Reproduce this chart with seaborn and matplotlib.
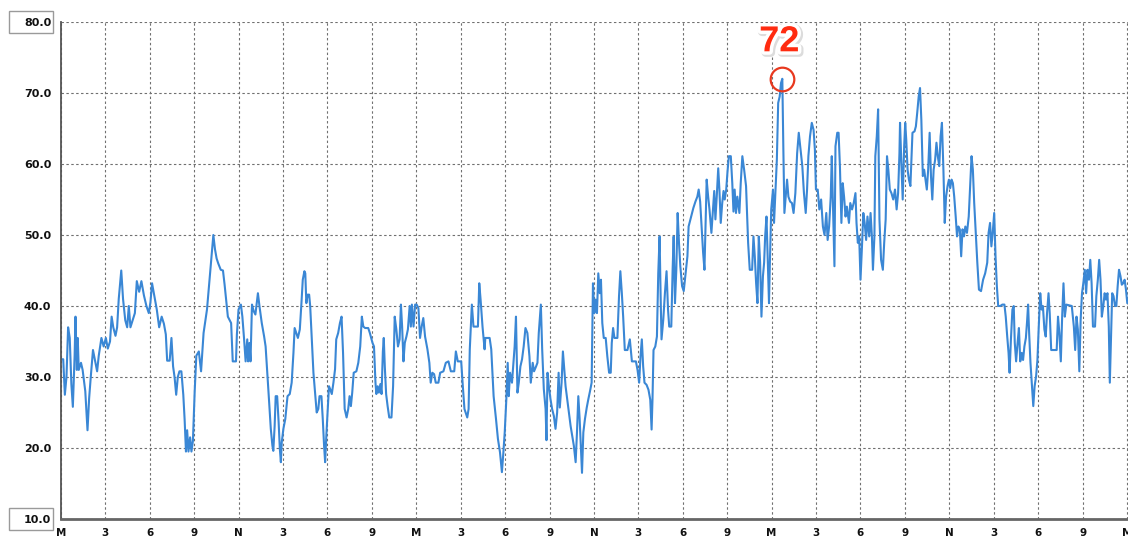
import numpy as np
import pandas as pd
import matplotlib
matplotlib.use("Agg")
import matplotlib.pyplot as plt
import matplotlib.patheffects as pe
import seaborn as sns
from matplotlib.ticker import MultipleLocator
from matplotlib.patches import Rectangle

# readings over three days, hour 0 = midnight of day 1
day1_hours = [
    0.00, 0.15, 0.26, 0.37, 0.48, 0.59, 0.70, 0.80, 0.92, 0.98,
    1.07, 1.13, 1.20, 1.35, 1.46, 1.64, 1.72, 1.79, 1.90, 2.01,
    2.16, 2.33, 2.44, 2.55, 2.73, 2.88, 3.03, 3.16, 3.31, 3.42,
    3.53, 3.68, 3.79, 3.90, 4.07, 4.19, 4.34, 4.47, 4.58, 4.69,
    4.84, 4.99, 5.12, 5.28, 5.43, 5.60, 5.77, 5.93, 6.04, 6.15,
    6.30, 6.47, 6.63, 6.80, 6.95, 7.08, 7.17, 7.34, 7.46, 7.57,
    7.67, 7.78, 7.89, 8.00, 8.13, 8.26, 8.35, 8.44, 8.52, 8.61,
    8.72, 8.81, 8.91, 9.03, 9.14, 9.31, 9.46, 9.63, 9.86, 10.01,
    10.18, 10.29, 10.40, 10.51, 10.62, 10.79, 10.94, 11.05, 11.27, 11.49,
    11.60, 11.82, 11.88, 11.99, 12.15, 12.25, 12.36, 12.47, 12.58, 12.64,
    12.73, 12.80, 12.90, 13.01, 13.13, 13.19, 13.30, 13.41, 13.56, 13.72,
    13.82, 13.95, 14.06, 14.17, 14.28, 14.34, 14.43, 14.50, 14.60, 14.70,
    14.78, 14.85, 14.91, 15.02, 15.15, 15.30, 15.45, 15.58, 15.70, 15.78,
    15.89, 16.00, 16.13, 16.24, 16.33, 16.44, 16.50, 16.57, 16.66, 16.76,
    16.83, 16.94, 17.05, 17.16, 17.27, 17.38, 17.46, 17.59, 17.68, 17.77,
    17.84, 17.92, 17.99, 18.10, 18.18, 18.29, 18.40, 18.51, 18.59, 18.72,
    18.84, 18.95, 19.05, 19.16, 19.29, 19.40, 19.49, 19.58, 19.67, 19.77,
    19.95, 20.08, 20.21, 20.32, 20.42, 20.54, 20.75, 20.86, 21.04, 21.14,
    21.24, 21.30, 21.39, 21.47, 21.57, 21.65, 21.74, 21.80, 21.87, 21.96,
    22.06, 22.17, 22.32, 22.43, 22.54, 22.65, 22.76, 22.87, 22.96, 23.04,
    23.13, 23.22, 23.33, 23.43, 23.55, 23.63, 23.70, 23.81, 23.92,
]
day1_values = [
    32.5, 32.5, 27.5, 30.0, 37.0, 35.5, 29.0, 25.8, 33.0, 38.5,
    31.0, 35.5, 31.0, 32.0, 31.0, 28.0, 25.0, 22.5, 27.0, 30.0,
    33.8, 32.0, 30.8, 33.0, 35.5, 34.3, 35.5, 34.0, 35.0, 38.5,
    37.0, 35.8, 37.0, 41.0, 45.0, 41.0, 38.0, 37.0, 40.0, 37.0,
    38.0, 39.0, 43.5, 42.0, 43.5, 41.5, 40.0, 39.0, 40.5, 43.2,
    41.5, 39.5, 37.0, 38.5, 37.5, 36.0, 32.3, 32.3, 35.5, 31.5,
    30.0, 27.5, 30.0, 30.8, 30.8, 27.5, 24.0, 19.5, 22.5, 19.5,
    21.5, 19.5, 21.0, 28.0, 33.0, 33.6, 30.8, 36.2, 39.5, 43.2,
    47.5, 50.0, 48.0, 46.7, 46.0, 45.1, 45.0, 43.0, 38.5, 37.6,
    32.2, 32.2, 36.0, 39.5, 40.2, 38.5, 35.5, 32.2, 35.3, 32.2,
    34.8, 32.2, 40.2, 39.3, 38.8, 39.9, 41.8, 39.9, 37.6, 35.7,
    34.3, 30.1, 26.4, 22.7, 20.3, 19.6, 23.1, 27.3, 27.3, 23.6,
    19.9, 18.0, 20.8, 22.7, 24.1, 27.3, 27.6, 29.2, 33.4, 36.9,
    36.2, 35.5, 36.7, 40.4, 43.7, 44.9, 44.6, 40.4, 41.6, 41.6,
    40.0, 35.3, 30.6, 27.8, 25.0, 25.5, 27.3, 27.3, 24.1, 20.3,
    18.0, 21.7, 24.5, 28.7, 28.3, 27.6, 29.2, 31.1, 35.3, 36.2,
    37.6, 38.5, 33.4, 25.5, 24.3, 25.5, 27.3, 25.9, 27.8, 30.6,
    30.8, 32.0, 34.3, 38.5, 37.1, 36.9, 36.9, 36.2, 34.8, 34.3,
    29.2, 27.6, 28.7, 27.8, 29.0, 27.6, 33.6, 35.5, 31.5, 27.6,
    25.9, 24.3, 24.3, 28.7, 38.5, 36.7, 34.3, 35.3, 40.2, 37.1,
    32.2, 34.8, 35.7, 36.7, 40.0, 37.1, 40.2, 37.1, 40.2,
]

day2_hours = [
    24.02, 24.14, 24.25, 24.36, 24.47, 24.59, 24.75, 24.88, 24.97, 25.08,
    25.20, 25.31, 25.49, 25.61, 25.83, 25.99, 26.17, 26.33, 26.56, 26.67,
    26.80, 27.03, 27.14, 27.25, 27.44, 27.53, 27.61, 27.75, 27.86, 28.16,
    28.25, 28.34, 28.47, 28.61, 28.66, 28.95, 29.06, 29.22, 29.38, 29.51,
    29.65, 29.78, 29.88, 29.97, 30.08, 30.17, 30.24, 30.33, 30.46, 30.56,
    30.64, 30.73, 30.83, 30.92, 31.03, 31.14, 31.25, 31.37, 31.50, 31.64,
    31.73, 31.86, 31.95, 32.09, 32.18, 32.27, 32.41, 32.50, 32.61, 32.73,
    32.79, 32.86, 32.95, 33.06, 33.17, 33.29, 33.40, 33.51, 33.61, 33.69,
    33.81, 33.90, 33.99, 34.08, 34.19, 34.31, 34.42, 34.53, 34.64, 34.76,
    34.85, 34.94, 35.03, 35.12, 35.19, 35.28, 35.39, 35.51, 35.62, 35.73,
    35.84, 35.93, 36.02, 36.11, 36.20, 36.29, 36.39, 36.47, 36.56, 36.66,
    36.79, 36.90, 37.02, 37.13, 37.20, 37.29, 37.38, 37.58, 37.69, 37.78,
    37.88, 37.97, 38.08, 38.26, 38.42, 38.56, 38.83, 38.94, 39.05, 39.14,
    39.23, 39.32, 39.41, 39.55, 39.68, 39.80, 39.89, 39.95, 40.02, 40.14,
    40.25, 40.34, 40.43, 40.50, 40.56, 40.68, 40.79, 40.90, 41.00, 41.08,
    41.22, 41.31, 41.38, 41.47, 41.56, 41.65, 41.74, 41.83, 41.95, 42.06,
    42.19, 42.31, 42.39, 42.56, 42.71, 42.85, 42.98, 43.07, 43.17, 43.28,
    43.37, 43.46, 43.53, 43.61, 43.71, 43.80, 43.93, 44.02, 44.12, 44.20,
    44.29, 44.39, 44.47, 44.56, 44.66, 44.75, 44.83, 44.93, 45.02, 45.11,
    45.24, 45.34, 45.42, 45.50, 45.59, 45.68, 45.82, 45.91, 46.02, 46.14,
    46.27, 46.41, 46.52, 46.68, 46.77, 46.86, 46.95, 47.04, 47.13, 47.22,
    47.31, 47.41, 47.49, 47.56, 47.65, 47.72, 47.82, 47.88, 47.97,
]
day2_values = [
    40.2, 39.7, 35.5, 37.1, 38.3, 35.7, 33.9, 32.0, 29.2, 30.6,
    30.4, 29.2, 29.2, 30.6, 30.8, 32.0, 32.2, 30.8, 30.8, 33.6,
    32.2, 32.2, 28.7, 25.5, 24.3, 25.5, 33.9, 40.2, 37.1, 37.1,
    43.2, 40.9, 37.1, 33.9, 35.5, 35.5, 33.9, 27.3, 24.1, 21.3,
    19.4, 16.6, 19.4, 22.2, 26.9, 32.0, 27.3, 30.6, 29.2, 32.0,
    34.3, 38.5, 27.8, 29.2, 31.5, 32.5, 34.3, 36.9, 36.2, 32.9,
    29.2, 32.0, 30.8, 31.5, 32.0, 36.2, 40.2, 33.9, 28.3, 25.5,
    21.1, 30.6, 28.7, 26.9, 25.5, 24.5, 22.7, 25.0, 30.6, 25.7,
    29.2, 33.6, 31.1, 28.7, 26.9, 25.0, 23.1, 21.7, 20.3, 18.0,
    22.2, 27.3, 24.1, 19.9, 16.5, 22.2, 24.1, 25.7, 26.9, 28.0,
    29.2, 43.2, 39.0, 40.9, 39.0, 44.6, 41.8, 43.7, 37.6, 35.5,
    35.5, 32.9, 30.6, 30.6, 34.8, 36.9, 35.5, 35.5, 41.4, 44.9,
    41.8, 38.5, 33.8, 33.8, 35.3, 32.2, 32.2, 31.0, 29.2, 32.9,
    35.3, 31.5, 29.2, 28.9, 28.2, 26.8, 22.6, 26.8, 33.8, 34.3,
    35.7, 44.6, 49.8, 41.4, 35.3, 38.1, 41.8, 44.9, 39.5, 37.1,
    37.1, 45.1, 49.8, 40.4, 45.1, 53.1, 48.9, 45.6, 42.8, 42.1,
    44.6, 47.0, 51.2, 52.6, 53.8, 54.7, 55.4, 56.4, 54.7, 50.8,
    47.5, 45.1, 50.8, 57.8, 55.4, 53.6, 50.3, 53.1, 56.2, 52.2,
    55.4, 59.4, 56.4, 51.7, 54.5, 56.2, 55.0, 56.4, 59.0, 61.1,
    61.1, 57.3, 53.3, 56.4, 53.1, 55.4, 53.1, 57.3, 61.1, 59.2,
    56.9, 48.9, 45.1, 45.1, 49.8, 47.0, 43.2, 40.4, 49.8, 46.1,
    38.5, 44.2, 46.1, 49.8, 52.6, 47.5, 40.4, 46.1, 53.6,
]

day3_hours = [
    48.09, 48.16, 48.26, 48.35, 48.44, 48.54, 48.63, 48.72, 48.79, 48.86,
    48.95, 49.04, 49.13, 49.25, 49.37, 49.48, 49.60, 49.72, 49.83, 49.95,
    50.07, 50.18, 50.30, 50.39, 50.48, 50.59, 50.71, 50.83, 50.92, 50.99,
    51.11, 51.22, 51.34, 51.46, 51.57, 51.69, 51.78, 51.88, 51.99, 52.06,
    52.15, 52.24, 52.31, 52.43, 52.52, 52.61, 52.71, 52.80, 52.89, 52.99,
    53.08, 53.22, 53.31, 53.43, 53.54, 53.66, 53.73, 53.82, 53.91, 54.00,
    54.10, 54.19, 54.28, 54.38, 54.47, 54.59, 54.68, 54.77, 54.84, 54.94,
    55.00, 55.10, 55.19, 55.28, 55.39, 55.51, 55.60, 55.70, 55.79, 55.88,
    55.98, 56.09, 56.21, 56.33, 56.44, 56.54, 56.63, 56.67, 56.76, 56.85,
    56.95, 57.02, 57.09, 57.18, 57.27, 57.37, 57.51, 57.65, 57.74, 57.83,
    57.93, 58.02, 58.11, 58.21, 58.30, 58.39, 58.48, 58.57, 58.67, 58.76,
    58.85, 58.94, 59.04, 59.13, 59.22, 59.32, 59.41, 59.50, 59.60, 59.69,
    59.78, 59.88, 59.97, 60.06, 60.15, 60.24, 60.33, 60.43, 60.52, 60.61,
    60.71, 60.80, 60.89, 60.99, 61.08, 61.19, 61.31, 61.43, 61.50, 61.59,
    61.68, 61.77, 61.89, 62.00, 62.14, 62.28, 62.42, 62.56, 62.65, 62.75,
    62.84, 62.93, 63.03, 63.12, 63.21, 63.30, 63.44, 63.58, 63.72, 63.81,
    63.91, 64.00, 64.07, 64.16, 64.26, 64.35, 64.42, 64.51, 64.61, 64.70,
    64.79, 64.89, 64.98, 65.07, 65.17, 65.25, 65.32, 65.39, 65.48, 65.58,
    65.67, 65.76, 65.86, 65.95, 66.04, 66.14, 66.23, 66.32, 66.42, 66.51,
    66.60, 66.70, 66.78, 66.88, 67.25, 67.34, 67.43, 67.53, 67.62, 67.71,
    67.80, 67.90, 68.27, 68.41, 68.50, 68.59, 68.68, 68.78, 68.87, 68.96,
    69.05, 69.15, 69.24, 69.33, 69.43, 69.52, 69.61, 69.70, 69.84, 69.93,
    70.03, 70.12, 70.21, 70.30, 70.40, 70.49, 70.58, 70.68, 70.77, 70.84,
    70.91, 71.00, 71.09, 71.19, 71.28, 71.37, 71.46, 71.56, 71.65, 71.74,
    71.84, 71.93, 72.02,
]
day3_values = [
    56.4, 51.7, 56.4, 60.6, 68.6, 69.5, 71.4, 72.0, 62.0, 53.1,
    55.4, 57.8, 55.4, 54.7, 54.5, 53.1, 55.9, 61.5, 64.4, 62.0,
    59.7, 55.9, 53.1, 56.4, 61.1, 63.9, 65.8, 64.8, 62.0, 56.4,
    56.4, 53.6, 55.0, 51.2, 50.0, 53.1, 49.3, 51.2, 55.4, 61.1,
    53.1, 45.6, 62.5, 64.4, 64.4, 59.7, 51.7, 57.3, 55.4, 52.6,
    54.0, 51.7, 54.5, 53.6, 54.5, 55.9, 51.7, 48.9, 49.8, 43.7,
    48.4, 53.1, 51.7, 49.3, 52.6, 49.8, 53.1, 49.8, 45.1, 49.8,
    61.1, 63.9, 67.7, 52.2, 46.5, 45.1, 48.9, 52.2, 61.1, 59.2,
    56.4, 55.9, 55.0, 56.4, 53.6, 55.9, 61.5, 65.8, 60.1, 55.0,
    62.5, 65.8, 63.4, 59.2, 57.8, 56.9, 64.4, 64.6, 65.3, 67.2,
    69.5, 70.7, 66.2, 58.3, 59.2, 57.8, 56.4, 59.2, 64.4, 58.3,
    55.0, 59.2, 60.6, 63.0, 61.1, 59.7, 63.9, 65.8, 59.2, 51.7,
    55.4, 56.9, 57.8, 56.6, 57.8, 57.3, 55.4, 52.6, 49.8, 51.2,
    50.8, 47.0, 50.8, 49.8, 51.2, 50.3, 52.6, 57.8, 61.1, 59.2,
    54.5, 50.8, 46.1, 42.3, 42.1, 43.7, 44.6, 46.1, 50.3, 51.7,
    48.4, 50.3, 53.1, 47.0, 42.8, 40.0, 40.0, 40.2, 40.2, 38.5,
    35.7, 33.4, 30.6, 35.3, 39.5, 40.0, 34.8, 32.2, 34.8, 36.9,
    32.2, 33.4, 32.4, 34.3, 35.5, 37.8, 40.2, 36.2, 32.0, 28.7,
    25.9, 28.7, 30.1, 32.4, 37.1, 41.8, 39.5, 40.0, 36.7, 35.7,
    39.0, 41.8, 39.0, 33.8, 33.8, 38.5, 36.2, 32.2, 38.5, 43.2,
    38.5, 40.2, 40.0, 37.1, 33.8, 38.5, 36.7, 30.8, 38.1, 41.8,
    43.2, 45.1, 41.8, 45.1, 43.7, 46.5, 43.2, 37.1, 37.1, 41.4,
    43.7, 46.5, 43.7, 38.5, 40.0, 41.8, 40.9, 41.8, 37.1, 29.2,
    34.8, 41.8, 41.4, 40.0, 40.0, 42.8, 45.1, 44.2, 43.0, 43.2,
    43.7, 42.3, 40.4,
]

tick_hours = list(range(0, 73, 3))
tick_labels = ["M", "3", "6", "9", "N", "3", "6", "9"] * 3 + ["M"]
y_ticks = [10, 20, 30, 40, 50, 60, 70, 80]

df = pd.DataFrame({
    "hour": day1_hours + day2_hours + day3_hours,
    "value": day1_values + day2_values + day3_values,
})

sns.set_style("white")
plt.rcParams["font.family"] = ["DejaVu Sans"]

fig = plt.figure(figsize=(11.28, 5.38), dpi=100)
ax = fig.add_axes([61 / 1128, 19 / 538, 1067 / 1128, 497 / 538])

sns.lineplot(data=df, x="hour", y="value", ax=ax, color="#3a87d5",
             linewidth=1.5, estimator=None, sort=False)

ax.set_xlim(0, 72 * 1067 / 1066)
ax.set_ylim(10, 80)
ax.set_xticks(tick_hours)
ax.set_xticklabels(tick_labels)
ax.set_yticks(y_ticks)
ax.set_yticklabels([f"{v:.1f}" for v in y_ticks])
ax.xaxis.set_minor_locator(MultipleLocator(1))
ax.yaxis.set_minor_locator(MultipleLocator(2.5))
ax.set_xlabel("")
ax.set_ylabel("")

ax.set_axisbelow(True)
ax.grid(which="major", color="#707070", linestyle=(0, (2.2, 2.2)), linewidth=0.8)
ax.tick_params(which="major", direction="out", length=4, width=1,
               color="#555555", labelsize=8, labelcolor="#111111")
ax.tick_params(which="minor", direction="out", length=2.5, width=1, color="#555555")
ax.tick_params(axis="x", which="major", pad=2.5, labelsize=7.5)
ax.tick_params(axis="y", which="major", pad=3)
for lbl in ax.get_xticklabels() + ax.get_yticklabels():
    lbl.set_fontweight("bold")

for side in ["top", "right"]:
    ax.spines[side].set_visible(False)
ax.spines["left"].set_color("#555555")
ax.spines["left"].set_linewidth(1.3)
ax.spines["bottom"].set_color("#666666")
ax.spines["bottom"].set_linewidth(2)

# framed boxes behind the end labels of the value axis
for yv in (y_ticks[0], y_ticks[-1]):
    ax.add_patch(Rectangle((-0.0487, yv - 1.48), 0.0412, 2.96,
                           transform=ax.get_yaxis_transform(), facecolor="white",
                           edgecolor="#9a9a9a", linewidth=1, clip_on=False, zorder=0.2))

# highlight the maximum
peak = df.loc[df["value"].idxmax()]
ax.plot([peak["hour"]], [peak["value"]], marker="o", markersize=17,
        markerfacecolor="none", markeredgecolor="#e8391f", markeredgewidth=1.6,
        zorder=5, clip_on=False)
ax.annotate(f"{peak['value']:.0f}", xy=(peak["hour"], peak["value"]),
            xytext=(-3, 37), textcoords="offset pixels", ha="center", va="center",
            fontsize=26, fontweight="bold", family="Liberation Sans", color="#ff2b10",
            path_effects=[pe.Stroke(linewidth=6, foreground="#dcdcdc", offset=(1, -1)),
                          pe.Stroke(linewidth=5, foreground="white"),
                          pe.Normal()],
            zorder=6, annotation_clip=False)

fig.savefig("out.png", dpi=100)
